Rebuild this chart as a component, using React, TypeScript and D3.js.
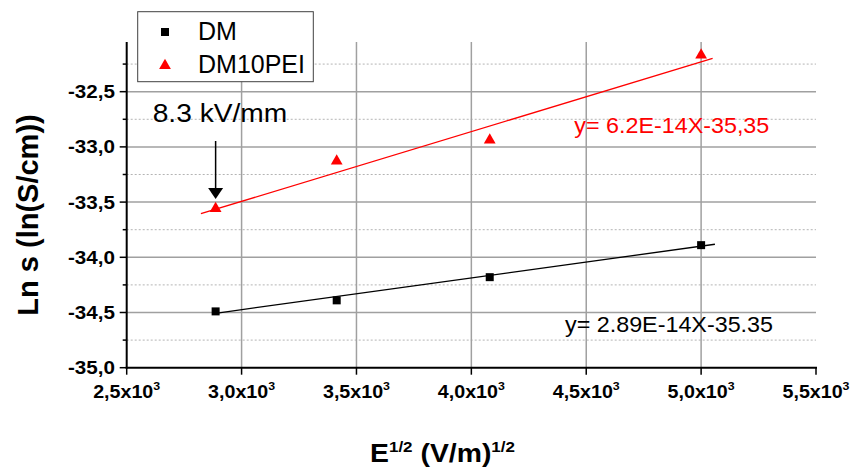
import React from "react";
import * as d3 from "d3";

const xValues = [2887, 3414, 4080, 5000];
const dmValues = [-34.49, -34.39, -34.18, -33.89];
const peiValues = [-33.55, -33.12, -32.93, -32.16];
const dmFitX = [2887, 5060];
const dmFitY = [-34.507, -33.882];
const peiFitX = [2823, 5050];
const peiFitY = [-33.605, -32.198];
const xTicks = [2500, 3000, 3500, 4000, 4500, 5000, 5500];
const xTickLabels = ["2,5x10", "3,0x10", "3,5x10", "4,0x10", "4,5x10", "5,0x10", "5,5x10"];
const yTicks = [-35, -34.5, -34, -33.5, -33, -32.5];
const yTickLabels = ["-35,0", "-34,5", "-34,0", "-33,5", "-33,0", "-32,5"];
const yMinorTicks = [-34.75, -34.25, -33.75, -33.25, -32.75, -32.25];
const seriesNames = ["DM", "DM10PEI"];
const eqLabels = ["y= 2.89E-14X-35.35", "y= 6.2E-14X-35,35"];

const FONT = "'Liberation Sans', Arial, Helvetica, sans-serif";

export default function App() {
  const W = 850, H = 467;
  const x = d3.scaleLinear().domain([2500, 5500]).range([126.7, 816]);
  const y = d3.scaleLinear().domain([-35, -32.05]).range([367.7, 42]);
  const line = d3.line<[number, number]>().x(d => x(d[0])).y(d => y(d[1]));
  const dmFit: [number, number][] = dmFitX.map((v, i) => [v, dmFitY[i]]);
  const peiFit: [number, number][] = peiFitX.map((v, i) => [v, peiFitY[i]]);
  const sq = d3.symbol().type(d3.symbolSquare).size(64)();
  const tri = d3.symbol().type(d3.symbolTriangle).size(60)();
  const x0 = x(2500), x1 = x(5500), y0 = y(-35), yTop = y(-32.05);
  const arrowX = x(xValues[0]);

  return (
    <svg width={W} height={H} style={{ position: "absolute", left: 0, top: 0, background: "#fff" }} fontFamily={FONT}>
      <rect x={0} y={0} width={W} height={H} fill="#fff" />
      {/* minor horizontal grid */}
      {yMinorTicks.map(t => (
        <line key={"ym" + t} x1={x0} x2={x1} y1={y(t)} y2={y(t)} stroke="#b4b4b4" strokeWidth={1} strokeDasharray="2,2" />
      ))}
      {/* major horizontal grid */}
      {yTicks.slice(1).map(t => (
        <line key={"yg" + t} x1={x0} x2={x1} y1={y(t)} y2={y(t)} stroke="#a0a0a0" strokeWidth={1.5} />
      ))}
      {/* vertical grid */}
      {xTicks.slice(1, -1).map(t => (
        <line key={"xg" + t} x1={x(t)} x2={x(t)} y1={yTop} y2={y0} stroke="#a0a0a0" strokeWidth={1.5} />
      ))}
      {/* fit lines */}
      <path d={line(dmFit) || ""} fill="none" stroke="#000" strokeWidth={1.3} />
      <path d={line(peiFit) || ""} fill="none" stroke="#ff0000" strokeWidth={1.3} />
      {/* points */}
      {xValues.map((v, i) => (
        <path key={"dm" + i} d={sq || ""} transform={`translate(${x(v)},${y(dmValues[i])})`} fill="#000" />
      ))}
      {xValues.map((v, i) => (
        <path key={"pe" + i} d={tri || ""} transform={`translate(${x(v)},${y(peiValues[i]) + 1})`} fill="#ff0000" />
      ))}
      {/* axes */}
      <line x1={x0} x2={x0} y1={yTop} y2={y0 + 1} stroke="#000" strokeWidth={2} />
      <line x1={x0 - 1} x2={x1 + 1} y1={y0} y2={y0} stroke="#000" strokeWidth={2} />
      {yTicks.map(t => (
        <line key={"yt" + t} x1={x0 - 7} x2={x0} y1={y(t)} y2={y(t)} stroke="#000" strokeWidth={1.5} />
      ))}
      {yMinorTicks.map(t => (
        <line key={"ymt" + t} x1={x0 - 4} x2={x0} y1={y(t)} y2={y(t)} stroke="#000" strokeWidth={1.5} />
      ))}
      {xTicks.map(t => (
        <line key={"xt" + t} x1={x(t)} x2={x(t)} y1={y0} y2={y0 + 7} stroke="#000" strokeWidth={1.5} />
      ))}
      {yTicks.map((t, i) => (
        <text key={"yl" + t} x={68} y={y(t) + 6.5} fontSize={17.5} fontWeight="bold" fill="#000" textLength={47} lengthAdjust="spacingAndGlyphs">
          {yTickLabels[i]}
        </text>
      ))}
      {xTicks.map((t, i) => (
        <text key={"xl" + t} x={x(t) - 33.5} y={398} fontSize={17.5} fontWeight="bold" fill="#000" textLength={67} lengthAdjust="spacingAndGlyphs">
          {xTickLabels[i]}
          <tspan fontSize={11} dy={-8}>3</tspan>
        </text>
      ))}
      {/* axis titles */}
      <text x={370} y={461.5} fontSize={25} fontWeight="bold" fill="#000" textLength={145} lengthAdjust="spacingAndGlyphs">
        E<tspan fontSize={15} dy={-10}>1/2</tspan>
        <tspan dy={10}> (V/m)</tspan>
        <tspan fontSize={15} dy={-10}>1/2</tspan>
      </text>
      <text transform={`translate(38,215) rotate(-90)`} textAnchor="middle" fontSize={29} fontWeight="bold" fill="#000">
        Ln s (ln(S/cm))
      </text>
      {/* equations */}
      <text x={565} y={332.3} fontSize={22.5} fill="#000" textLength={208} lengthAdjust="spacingAndGlyphs">{eqLabels[0]}</text>
      <text x={574.3} y={133.3} fontSize={22} fill="#ff0000" textLength={195} lengthAdjust="spacingAndGlyphs">{eqLabels[1]}</text>
      {/* annotation */}
      <text x={152.7} y={122.3} fontSize={25.5} fill="#000" textLength={134.6} lengthAdjust="spacingAndGlyphs">8.3 kV/mm</text>
      <line x1={arrowX} x2={arrowX} y1={141} y2={190} stroke="#000" strokeWidth={1.5} />
      <path d={`M${arrowX - 7.5},188 L${arrowX + 7.5},188 L${arrowX},199 Z`} fill="#000" />
      {/* legend */}
      <rect x={137.7} y={11.7} width={175.6} height={70} fill="#fff" stroke="#404040" strokeWidth={1} />
      <path d={sq || ""} transform="translate(165,32)" fill="#000" />
      <path d={tri || ""} transform="translate(165,65.5)" fill="#ff0000" />
      <text x={198} y={40} fontSize={25} fill="#000">{seriesNames[0]}</text>
      <text x={198} y={73.3} fontSize={25} fill="#000">{seriesNames[1]}</text>
    </svg>
  );
}
